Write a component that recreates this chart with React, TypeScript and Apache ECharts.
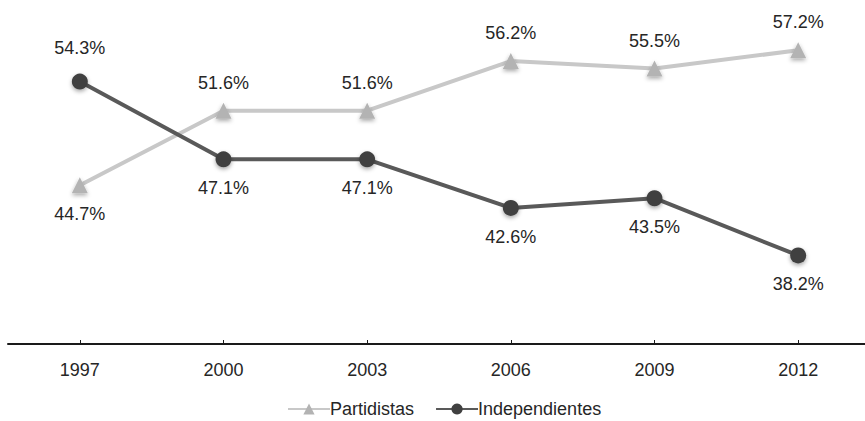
import React, { useEffect, useRef } from "react";
import * as echarts from "echarts";

const years = ["1997", "2000", "2003", "2006", "2009", "2012"];
const partidistas = [44.7, 51.6, 51.6, 56.2, 55.5, 57.2];
const independientes = [54.3, 47.1, 47.1, 42.6, 43.5, 38.2];
const partidistasLabelPos = ["bottom", "top", "top", "top", "top", "top"];
const independientesLabelPos = ["top", "bottom", "bottom", "bottom", "bottom", "bottom"];

const FONT = "'Liberation Sans', Arial, sans-serif";

export default function App() {
  const ref = useRef<HTMLDivElement>(null);
  useEffect(() => {
    if (!ref.current) return;
    document.body.style.overflow = "hidden";
    const chart = echarts.init(ref.current, undefined, { renderer: "svg" });
    const labelStyle = {
      show: true,
      fontSize: 18,
      fontFamily: FONT,
      color: "#262626",
      distance: 11,
      formatter: (p: any) => p.value.toFixed(1) + "%",
    };
    chart.setOption({
      animation: false,
      backgroundColor: "#ffffff",
      textStyle: { fontFamily: FONT },
      grid: { left: 8, right: 10, top: 20, bottom: 77 },
      legend: {
        bottom: -2,
        left: 282,
        itemWidth: 42,
        itemHeight: 14,
        itemGap: 21,
        textStyle: { fontSize: 18, fontFamily: FONT, color: "#262626", padding: [0, 0, 0, -5] },
        data: ["Partidistas", "Independientes"],
      },
      xAxis: {
        type: "category",
        data: years,
        boundaryGap: true,
        axisLine: { lineStyle: { color: "#1a1a1a", width: 2 } },
        axisTick: { show: true, alignWithLabel: true, inside: true, length: 4, lineStyle: { color: "#1a1a1a" } },
        axisLabel: { fontSize: 18, fontFamily: FONT, color: "#262626", margin: 17 },
      },
      yAxis: {
        type: "value",
        min: 30,
        max: 60,
        show: false,
        splitLine: { show: false },
      },
      series: [
        {
          name: "Partidistas",
          type: "line",
          data: partidistas.map((v, i) => ({
            value: v,
            label: { position: partidistasLabelPos[i], distance: partidistasLabelPos[i] === "bottom" ? 12 : 11 },
          })),
          symbol: "triangle",
          symbolSize: 16,
          lineStyle: { color: "#c8c8c8", width: 4 },
          itemStyle: {
            color: "#b3b3b3",
            shadowColor: "rgba(0,0,0,0.35)",
            shadowBlur: 4,
            shadowOffsetY: 2,
          },
          label: labelStyle,
        },
        {
          name: "Independientes",
          type: "line",
          data: independientes.map((v, i) => ({
            value: v,
            label: { position: independientesLabelPos[i], distance: i === 0 ? 17 : 12 },
          })),
          symbol: "circle",
          symbolSize: 16,
          lineStyle: { color: "#595959", width: 4 },
          itemStyle: {
            color: "#404040",
            shadowColor: "rgba(0,0,0,0.35)",
            shadowBlur: 4,
            shadowOffsetY: 2,
          },
          label: labelStyle,
        },
      ],
    });
    return () => chart.dispose();
  }, []);
  return (
    <div
      ref={ref}
      style={{ position: "fixed", left: 0, top: 0, width: 880, height: 421 }}
    />
  );
}
